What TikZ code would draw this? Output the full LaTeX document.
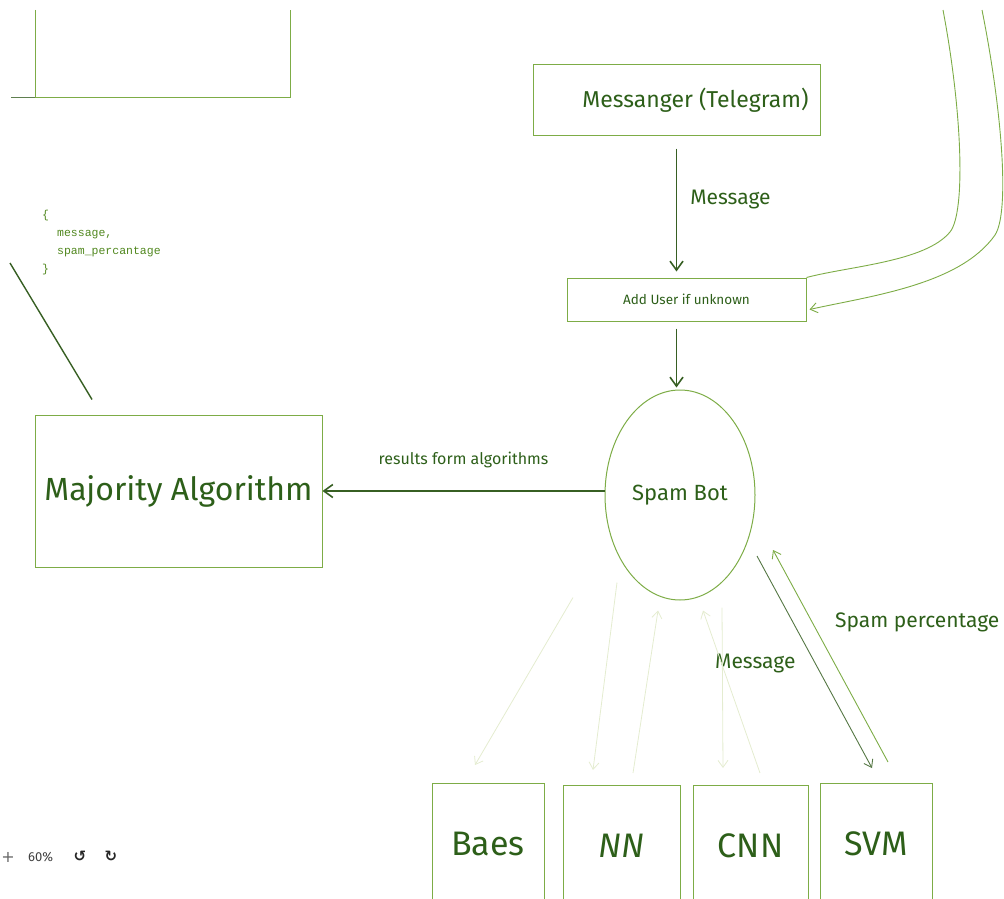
\documentclass[tikz,border=0pt]{standalone}
\usepackage{fontspec}
\setmainfont{Fira Sans}
\setmonofont{Liberation Mono}
\newfontfamily\symfont{DejaVu Sans}
\usetikzlibrary{arrows.meta,positioning,shapes.geometric}
\definecolor{inkgreen}{RGB}{45,95,25}
\definecolor{linegreen}{RGB}{125,172,70}
\definecolor{arrowgreen}{RGB}{55,95,35}
\definecolor{codegreen}{RGB}{80,135,30}
\definecolor{faintgreen}{RGB}{228,236,208}
\newcommand{\fsz}[1]{\fontsize{#1}{#1}\selectfont}
\begin{document}
\begin{tikzpicture}[x=1pt, y=-1pt, >={Straight Barb[length=9pt,width=13pt]},
    box/.style={draw=linegreen, line width=1pt, text=inkgreen, inner sep=0pt},
    modelbox/.style={box, anchor=north, minimum width=112pt, inner ysep=0pt,
      text height=72pt, text depth=60pt, font=\fsz{34}},
    lbl/.style={text=inkgreen, inner sep=0pt},
    darkarrow/.style={->, arrowgreen, line width=1.6pt},
    thinarrow/.style={->, line width=0.9pt, >={Straight Barb[length=7pt,width=10pt]}},
    faintarrow/.style={thinarrow, faintgreen, line width=0.8pt}]
  \useasboundingbox (0,0) rectangle (1004,899);
  \clip (0,0) rectangle (1004,899);
  % --- cut-off box at the top left ---
  \draw[linegreen, line width=1pt] (35,10) -- (35,97) -- (290,97) -- (290,10);
  \draw[arrowgreen!80, line width=1pt] (11,97) -- (35,97);
  % --- boxes ---
  \node[box, minimum width=287pt, minimum height=70pt, font=\fsz{23}]
    (telegram) at (676.5,100) {\hspace*{38pt}Messanger (Telegram)};
  \node[box, minimum width=239pt, minimum height=43pt, font=\fsz{13.5}]
    (adduser) at (686.5,299.5) {Add User if unknown};
  \node[box, ellipse, minimum width=150pt, minimum height=210pt, font=\fsz{22}]
    (spambot) at (680,495) {Spam Bot};
  \node[box, minimum width=287pt, minimum height=152pt, font=\fsz{32}]
    (majority) at (178.5,491) {Majority Algorithm};
  \node[modelbox] (baes) at (488,783) {Baes};
  \node[modelbox, minimum width=117pt] (nn) at (621.5,785) {\itshape NN};
  \node[modelbox, minimum width=115pt] (cnn) at (750.5,785) {CNN};
  \node[modelbox] (svm) at (876,783) {SVM};
  % --- returned object ---
  \node[anchor=north west, align=left, text=codegreen, inner sep=0pt,
    font=\ttfamily\fontsize{11.5}{18}\selectfont] (result) at (42,210)
    {\{\\\hspace*{1.3em}message,\\\hspace*{1.3em}spam\_percantage\\\}};
  \coordinate (resultend) at (10,263);
  \draw[arrowgreen, line width=1.4pt] ([xshift=-86.5pt,yshift=15pt]majority.north) -- (resultend);
  % --- main flow ---
  \draw[darkarrow, shorten <=13pt, shorten >=6pt] (telegram.south) --
    node[lbl, right=13pt, pos=0.45, font=\fsz{21}] {Message} (telegram.south |- adduser.north);
  \draw[darkarrow, shorten <=7pt, shorten >=2pt] (telegram.south |- adduser.south)
    -- (telegram.south |- spambot.north);
  \draw[darkarrow] (majority.east -| spambot.west) --
    node[lbl, above=22pt, font=\fsz{16}] {results form algorithms} (majority.east);
  % --- users coming in from the top right ---
  \coordinate (usersA) at (943,10);
  \coordinate (usersB) at (982,10);
  \draw[linegreen, line width=0.9pt] (usersA) .. controls (962,110) and (966,212) .. (950,232)
    .. controls (925,262) and (850,266) .. (adduser.north east);
  \draw[thinarrow, linegreen] (usersB) .. controls (1002,110) and (1010,212) .. (995,235)
    .. controls (960,285) and (870,296) .. ([xshift=3pt,yshift=-10pt]adduser.east);
  % --- spam bot <-> SVM ---
  \draw[thinarrow, arrowgreen!85]
    ([xshift=77pt,yshift=-61pt]spambot.center) -- ([xshift=-4pt,yshift=15pt]svm.north);
  \draw[thinarrow, linegreen]
    ([xshift=12pt,yshift=21pt]svm.north) -- ([xshift=93pt,yshift=-55pt]spambot.center);
  \node[lbl, anchor=west, font=\fsz{21}] (msglbl) at (715,663) {Message};
  \node[lbl, anchor=west, font=\fsz{21}] (spamlbl) at (835,622) {Spam percentage};
  % --- spam bot <-> other models (faint) ---
  \draw[faintarrow] ([xshift=-107pt,yshift=3pt]spambot.south) -- ([xshift=-13pt,yshift=18pt]baes.north);
  \draw[faintarrow] ([xshift=-63pt,yshift=18pt]spambot.south) -- ([xshift=-28.5pt,yshift=15pt]nn.north);
  \draw[faintarrow] ([xshift=11.5pt,yshift=12pt]nn.north) -- ([xshift=-22pt,yshift=-10pt]spambot.south);
  \draw[faintarrow] ([xshift=42pt,yshift=-7pt]spambot.south) -- ([xshift=-27.5pt,yshift=17pt]cnn.north);
  \draw[faintarrow] ([xshift=9.5pt,yshift=12pt]cnn.north) -- ([xshift=23pt,yshift=-10pt]spambot.south);
  % --- zoom controls ---
  \node[anchor=west, text=black!75, inner sep=0pt, font=\fsz{13}] (zoomlvl) at (28,857) {60\%};
  \node[text=black!85, inner sep=0pt, font=\symfont\bfseries\fsz{15}] (undo) at (80,856) {↺};
  \node[text=black!85, inner sep=0pt, font=\symfont\bfseries\fsz{15}] (redo) at (111,856) {↻};
  \node[text=black!60, inner sep=0pt, font=\symfont\fsz{16}] (zoomout) at (8,857) {+};
\end{tikzpicture}
\end{document}
